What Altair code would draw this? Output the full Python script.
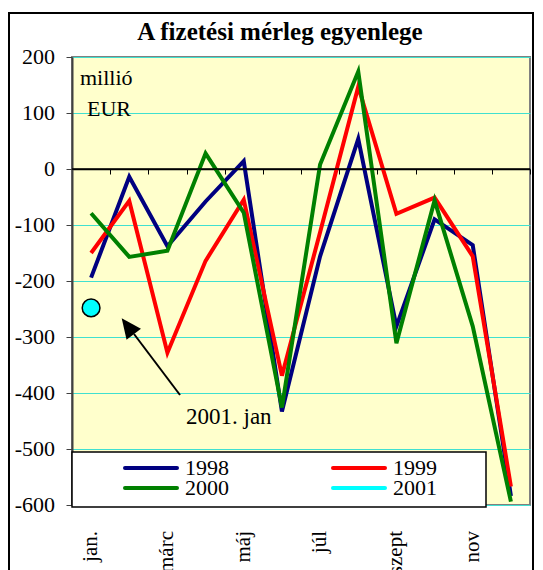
import altair as alt
import pandas as pd

FONT = "'Liberation Serif', 'Times New Roman', serif, 'DejaVu Serif'"

months = ["jan.", "febr.", "márc", "ápr.", "máj", "jún.", "júl", "aug.", "szept", "okt.", "nov", "dec."]
y1998 = [-194, -14, -138, -58, 14, -433, -156, 54, -281, -90, -136, -584]
y1999 = [-150, -57, -328, -164, -55, -369, -113, 147, -80, -51, -156, -567]
y2000 = [-79, -157, -146, 28, -78, -426, 8, 174, -311, -56, -281, -594]
y2001 = [-248]
years = ["1998", "1999", "2000", "2001"]
colors = ["#000080", "#FF0000", "#008000", "#00FFFF"]
y_ticks = [-600, -500, -400, -300, -200, -100, 0, 100, 200]
label_months = [1, 3, 5, 7, 9, 11]

W, H = 458, 448

rows = []
for yr, vals in zip(years[:3], [y1998, y1999, y2000]):
    for i, v in enumerate(vals):
        rows.append({"year": yr, "m": i + 1, "value": v})
df = pd.DataFrame(rows)
df01 = pd.DataFrame({"year": ["2001"], "m": [1], "value": y2001})
df_ylab = pd.DataFrame({"v": y_ticks, "t": [str(v) for v in y_ticks]})
df_xlab = pd.DataFrame({"m": label_months, "t": [months[i - 1] for i in label_months]})

xscale = alt.Scale(domain=[0.5, 12.5], nice=False, zero=False)
yscale = alt.Scale(domain=[-600, 200], nice=False, zero=False)

x_axis_ticks = alt.Axis(
    orient="bottom", values=[0.5 + i for i in range(13)], labels=False,
    ticks=True, tickSize=5, tickColor="black", tickWidth=1, domain=True,
    domainColor="black", domainWidth=1.5, grid=False, offset=-336, title=None,
)


def y_axis():
    return alt.Axis(
        values=y_ticks, grid=True, gridColor="#40E0D0", gridWidth=1,
        domain=True, domainColor="#404040", domainWidth=2, tickColor="#404040",
        tickSize=6, tickWidth=1, labels=False, title=None,
    )


lines = alt.Chart(df).mark_line(strokeWidth=4).encode(
    x=alt.X("m:Q", scale=xscale, axis=None),
    y=alt.Y("value:Q", scale=yscale, axis=y_axis()),
    color=alt.Color(
        "year:N", scale=alt.Scale(domain=years, range=colors), legend=None
    ),
)

zero_ticks = alt.Chart(pd.DataFrame({"a": [0]})).mark_rule(color="black", strokeWidth=1.5).encode(
    x=alt.X(datum=0.5, type="quantitative", scale=xscale, axis=x_axis_ticks),
    x2=alt.X2(datum=12.5),
    y=alt.Y(datum=0, type="quantitative", scale=yscale, axis=y_axis()),
)

pt2001 = alt.Chart(df01).mark_point(
    shape="circle", filled=True, fill="#00FFFF", stroke="black",
    strokeWidth=1.5, size=314, opacity=1,
).encode(
    x=alt.X("m:Q", scale=xscale, axis=None),
    y=alt.Y("value:Q", scale=yscale, axis=y_axis()),
)

# tick labels drawn through the scales
ylabels = alt.Chart(df_ylab).mark_text(
    font=FONT, fontSize=22, color="black", align="right", baseline="alphabetic",
    dy=7,
).encode(
    x=alt.value(-17),
    y=alt.Y("v:Q", scale=yscale, axis=y_axis()),
    text="t:N",
)
xlabels = alt.Chart(df_xlab).mark_text(
    font=FONT, fontSize=21, color="black", align="right", baseline="alphabetic",
    angle=270, dy=6,
).encode(
    x=alt.X("m:Q", scale=xscale, axis=None),
    y=alt.value(H + 26),
    text="t:N",
)

legend_box = alt.Chart(pd.DataFrame({"a": [0]})).mark_rect(
    fill="white", stroke="black", strokeWidth=1.5
).encode(
    x=alt.value(0), x2=alt.value(414), y=alt.value(395), y2=alt.value(450)
)

outer_box = alt.Chart(pd.DataFrame({"a": [0]})).mark_rect(
    fill="white", fillOpacity=0, stroke="black", strokeWidth=2
).encode(
    x=alt.value(-63), x2=alt.value(461), y=alt.value(-44), y2=alt.value(620)
)


def label(txt, x, y, size=22, align="left", weight="normal"):
    return alt.Chart(pd.DataFrame({"t": [txt]})).mark_text(
        font=FONT, fontSize=size, color="black", align=align,
        baseline="alphabetic", fontWeight=weight,
    ).encode(x=alt.value(x), y=alt.value(y), text="t:N")


def swatch(color, x, y):
    return alt.Chart(pd.DataFrame({"a": [0]})).mark_rule(
        color=color, strokeWidth=4, strokeCap="round"
    ).encode(x=alt.value(x), x2=alt.value(x + 52), y=alt.value(y))


t_title = label("A fizetési mérleg egyenlege", 208, -17, 25, "center", "bold")
t_millio = label("millió", 8, 28)
t_eur = label("EUR", 15, 59)
t_jan = label("2001. jan", 114, 367, 23)

# legend (two columns, row-wise)
legend_parts = [
    swatch(colors[0], 53, 411), label(years[0], 113, 418),
    swatch(colors[1], 261, 411), label(years[1], 321, 418),
    swatch(colors[2], 53, 431), label(years[2], 113, 438),
    swatch(colors[3], 261, 431), label(years[3], 321, 438),
]

arrow_line = alt.Chart(pd.DataFrame({"a": [0]})).mark_rule(
    color="black", strokeWidth=2
).encode(x=alt.value(108), y=alt.value(338), x2=alt.value(62), y2=alt.value(277))

arrow_head = alt.Chart(pd.DataFrame({"a": [0]})).mark_point(
    shape="M0,0 L0.9,2 L-0.9,2 Z", size=400, angle=323, filled=True,
    color="black", opacity=1,
).encode(x=alt.value(49.7), y=alt.value(261.3))

chart = alt.layer(
    lines, zero_ticks, pt2001, ylabels, xlabels, legend_box, *legend_parts,
    t_title, t_millio, t_eur, t_jan, arrow_line, arrow_head, outer_box,
).resolve_axis(x="independent").properties(
    width=W, height=H,
    autosize=alt.AutoSizeParams(type="none"),
    padding={"left": 64, "top": 49, "right": 5, "bottom": 65},
    background="white",
).configure_view(fill="#FFFFCC", stroke="#808080", strokeWidth=2)

chart.save("out.html", embed_options={"renderer": "svg", "actions": False})
